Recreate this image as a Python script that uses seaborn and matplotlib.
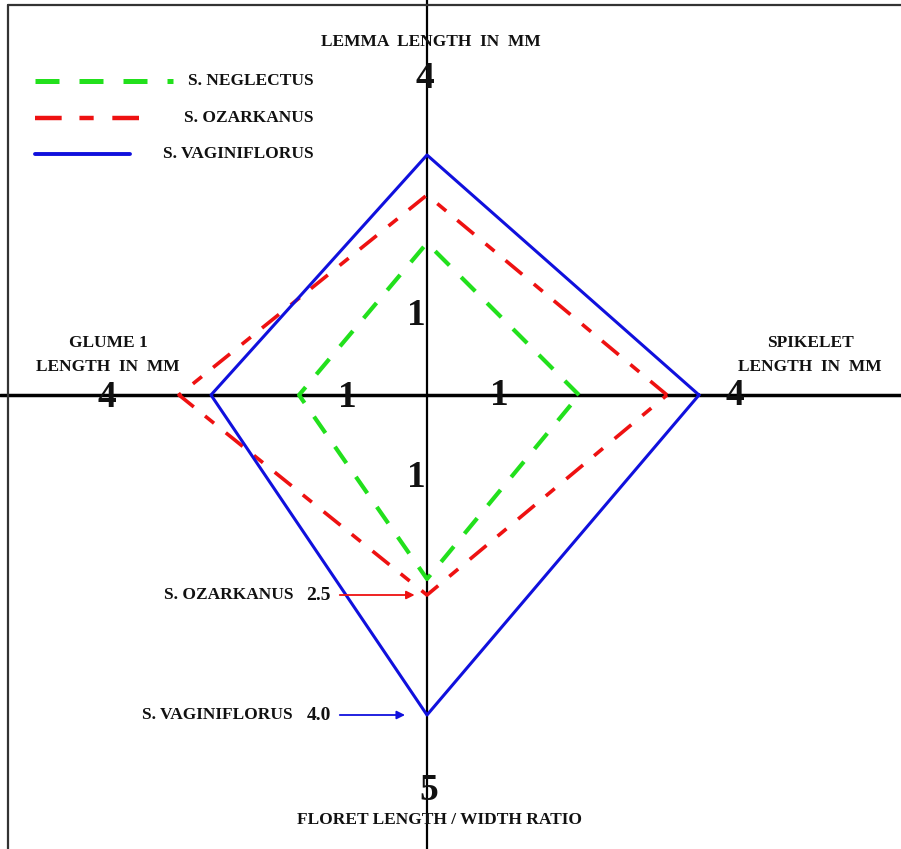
import matplotlib
matplotlib.use("Agg")
import matplotlib.pyplot as plt
from matplotlib.lines import Line2D
import seaborn as sns
import pandas as pd

sns.set_style("white")
plt.rcParams['font.family'] = ['Liberation Serif', 'DejaVu Serif']

# ---------------- data ----------------
species = ["S. NEGLECTUS", "S. OZARKANUS", "S. VAGINIFLORUS"]
spikelet_length = [1.9, 3.0, 3.4]   # right axis
lemma_length = [1.9, 2.5, 3.0]      # top axis
glume1_length = [1.6, 3.1, 2.7]     # left axis
floret_ratio = [2.3, 2.5, 4.0]      # bottom axis

axis_titles = {
    "top": "LEMMA  LENGTH  IN  MM",
    "left": "GLUME 1\nLENGTH  IN  MM",
    "right": "SPIKELET\nLENGTH  IN  MM",
    "bottom": "FLORET LENGTH / WIDTH RATIO",
}
tick_right = [1, 4]
tick_left = [1, 4]
tick_top = [1, 4]
tick_bottom = [1, 5]

annot_species = ["S. OZARKANUS", "S. VAGINIFLORUS"]
annot_values = [2.5, 4.0]

# ---------------- style ----------------
colors = ["#22e01c", "#ee1111", "#1010dd"]
styles = [(0, (4.8, 4.0)), (0, (6.0, 4.0, 3.2, 4.2)), "-"]
widths = [3.0, 2.6, 2.2]

UNIT = 80.0  # pixels per data unit
W, H = 901, 849
CX, CY = 427, 395

fig = plt.figure(figsize=(W / 100, H / 100), dpi=100)
ax = fig.add_axes([0, 0, 1, 1])
ax.set_xlim(-CX / UNIT, (W - CX) / UNIT)
ax.set_ylim(-(H - CY) / UNIT, CY / UNIT)
ax.set_axis_off()


def P(px, py):
    """pixel position -> data coords (for text placement only)"""
    return (px - CX) / UNIT, (CY - py) / UNIT


# frame (top & left)
fig.add_artist(Line2D([8 / W, 8 / W], [0, 1 - 5 / H], color="#333333", lw=1.6))
fig.add_artist(Line2D([8 / W, 1], [1 - 5 / H, 1 - 5 / H], color="#333333", lw=1.6))

# cross axes
ax.axhline(0, color="black", lw=2.5, zorder=1)
ax.axvline(0, color="black", lw=1.6, zorder=1)

# polygons
for i, sp in enumerate(species):
    df = pd.DataFrame({
        "x": [spikelet_length[i], 0, -glume1_length[i], 0, spikelet_length[i]],
        "y": [0, lemma_length[i], 0, -floret_ratio[i], 0],
    })
    sns.lineplot(data=df, x="x", y="y", sort=False, estimator=None, ax=ax,
                 color=colors[i], lw=widths[i], linestyle=styles[i], zorder=3)

# legend (manual)
leg_y = [81, 118, 154]
leg_x_end = [173, 155, 130]
for i, sp in enumerate(species):
    x0, y0 = P(35, leg_y[i])
    x1, _ = P(leg_x_end[i], leg_y[i])
    ax.plot([x0, x1], [y0, y0], color=colors[i], lw=widths[i] + 0.6,
            linestyle=styles[i])
    tx, ty = P(314, leg_y[i])
    ax.text(tx, ty, sp, ha="right", va="center", fontsize=12.5,
            fontweight="bold", color="#111111")

tfont = dict(fontsize=12.5, fontweight="bold", color="#111111")
# axis titles
ax.text(*P(431, 42), axis_titles["top"], ha="center", va="center", **tfont)
ax.text(*P(108, 355), axis_titles["left"], ha="center", va="center",
        linespacing=1.6, **tfont)
ax.text(*P(810, 355), axis_titles["right"], ha="center", va="center",
        linespacing=1.6, **tfont)
ax.text(*P(439, 820), axis_titles["bottom"], ha="center", va="center", **tfont)

# tick labels
dfont = dict(fontsize=27, fontweight="bold", color="#111111",
             ha="center", va="center")
ax.text(tick_right[0] - 0.09, 0.0, str(tick_right[0]), **dfont)
ax.text(tick_right[1] - 0.15, 0.0, str(tick_right[1]), **dfont)
ax.text(-tick_left[0] + 0.0, -0.03, str(tick_left[0]), **dfont)
ax.text(-tick_left[1] + 0.0, -0.03, str(tick_left[1]), **dfont)
ax.text(-0.13, tick_top[0], str(tick_top[0]), **dfont)
ax.text(-0.03, tick_top[1] - 0.04, str(tick_top[1]), **dfont)
ax.text(-0.13, -tick_bottom[0] - 0.03, str(tick_bottom[0]), **dfont)
ax.text(0.02, -tick_bottom[1] + 0.06, str(tick_bottom[1]), **dfont)

# annotations with arrows
arrow_colors = [colors[1], colors[2]]
tip_gap = [0.12, 0.24]
for i, (sp, v) in enumerate(zip(annot_species, annot_values)):
    y = -v
    ax.text(P(293, 0)[0], y, sp, ha="right", va="center", **tfont)
    ax.text(P(331, 0)[0], y, f"{v:.1f}", ha="right", va="center",
            fontsize=14, fontweight="bold", color="#111111")
    ax.annotate("", xy=(-tip_gap[i], y), xytext=(P(337, 0)[0], y),
                arrowprops=dict(arrowstyle="-|>", color=arrow_colors[i],
                                lw=1.3, mutation_scale=12))

fig.savefig("out.png", dpi=100)
